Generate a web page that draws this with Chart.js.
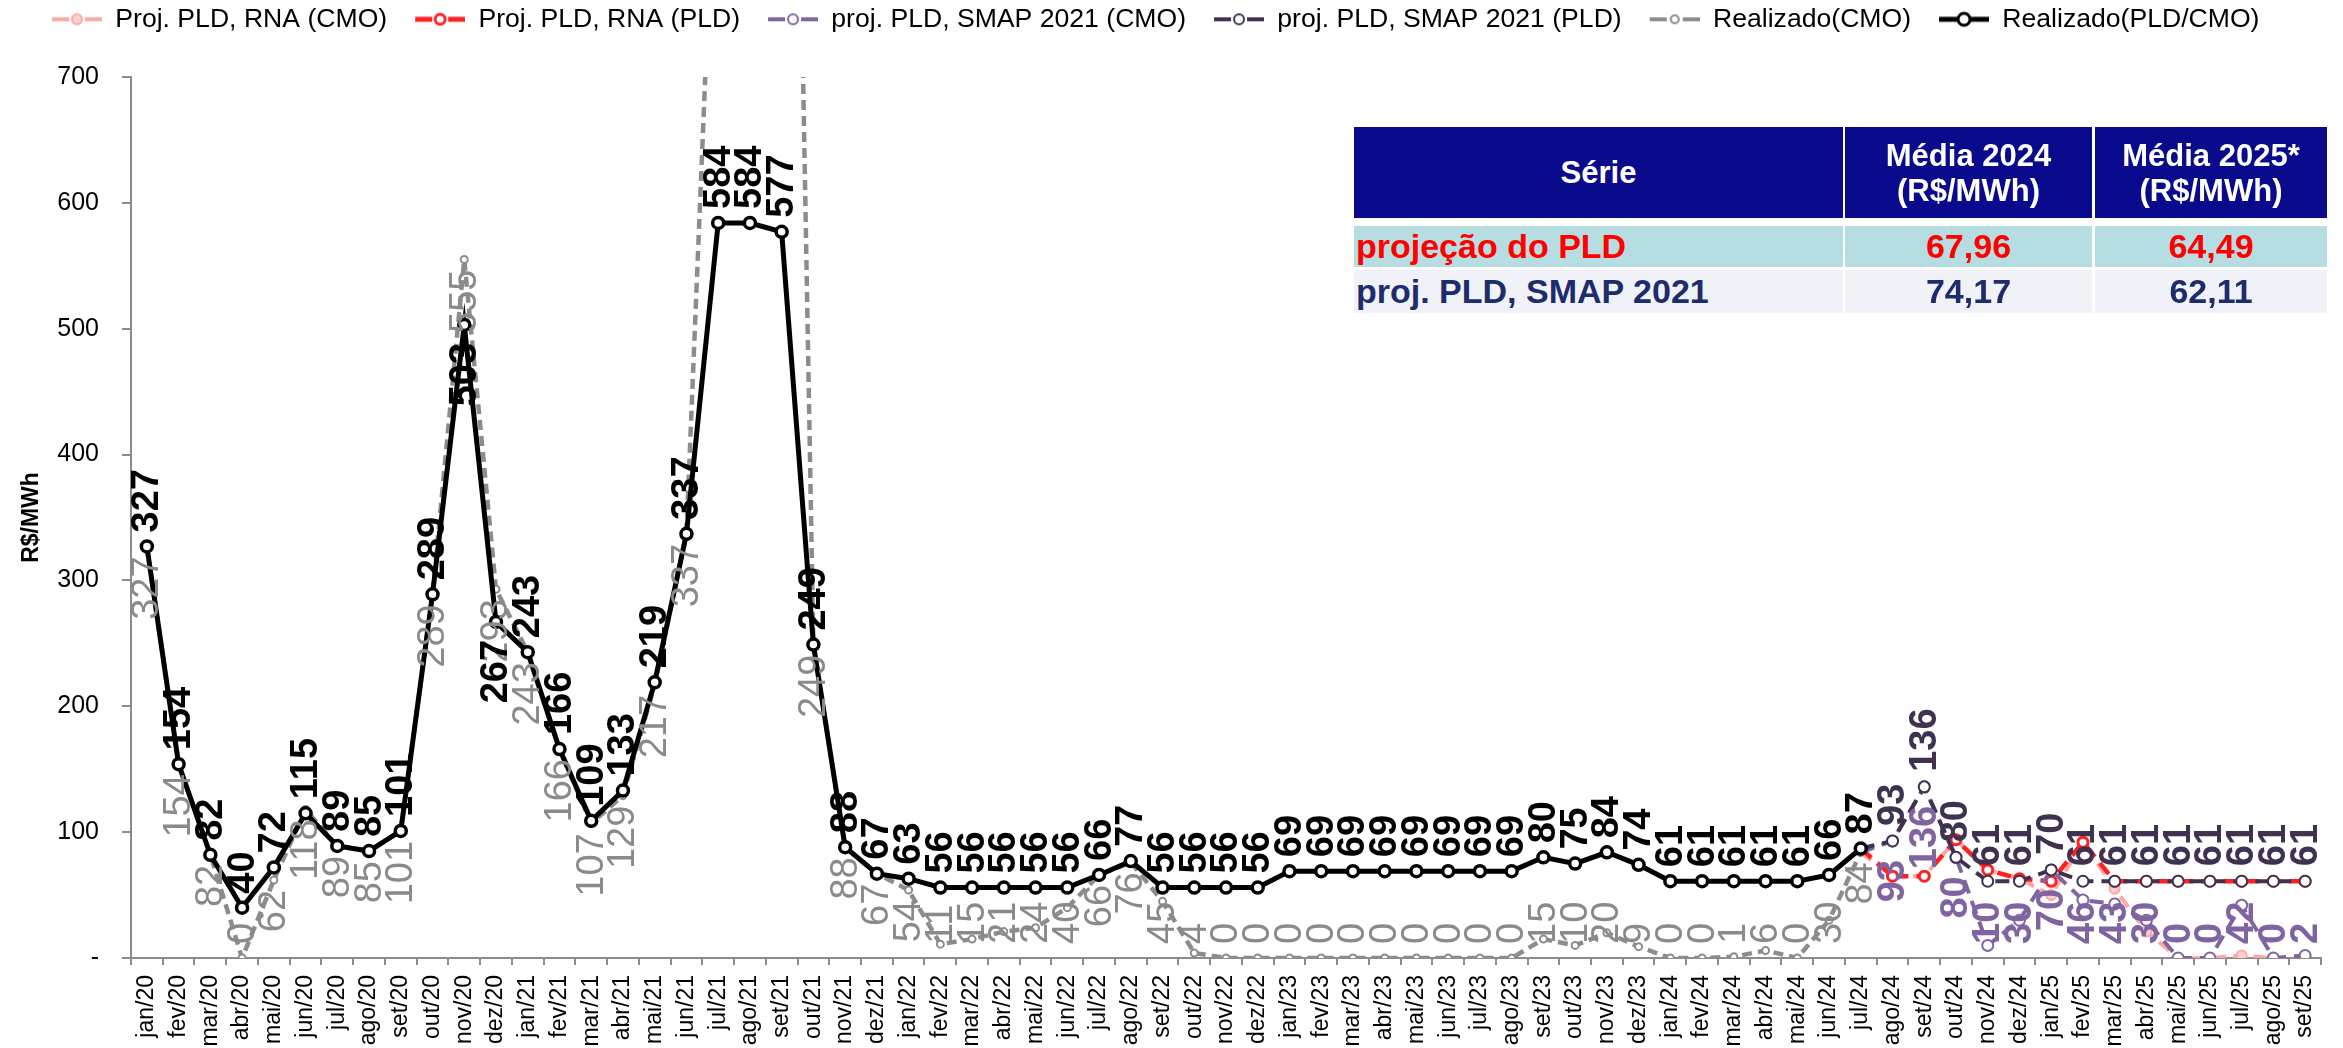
<!DOCTYPE html>
<html>
<head>
<meta charset="utf-8">
<script src="https://cdn.jsdelivr.net/npm/chart.js@4.4.1/dist/chart.umd.min.js"></script>
<style>
html,body{margin:0;padding:0;background:#fff;}
#wrap{position:relative;width:2343px;height:1048px;overflow:hidden;}
#c{position:absolute;left:0;top:0;}
.cell{position:absolute;box-sizing:border-box;display:flex;align-items:center;justify-content:center;text-align:center;
  font-family:'Liberation Sans',Arial,sans-serif;font-weight:bold;font-size:31px;line-height:35px;white-space:nowrap;}
.cell.body{font-size:34px;}
</style>
</head>
<body>
<div id="wrap"><canvas id="c" width="2343" height="1048"></canvas></div>
<script>
// ---------------- DATA ----------------
const categories = [
 'jan/20','fev/20','mar/20','abr/20','mai/20','jun/20','jul/20','ago/20','set/20','out/20','nov/20','dez/20',
 'jan/21','fev/21','mar/21','abr/21','mai/21','jun/21','jul/21','ago/21','set/21','out/21','nov/21','dez/21',
 'jan/22','fev/22','mar/22','abr/22','mai/22','jun/22','jul/22','ago/22','set/22','out/22','nov/22','dez/22',
 'jan/23','fev/23','mar/23','abr/23','mai/23','jun/23','jul/23','ago/23','set/23','out/23','nov/23','dez/23',
 'jan/24','fev/24','mar/24','abr/24','mai/24','jun/24','jul/24','ago/24','set/24','out/24','nov/24','dez/24',
 'jan/25','fev/25','mar/25','abr/25','mai/25','jun/25','jul/25','ago/25','set/25'
];
const N = null;
const realizadoPLD = [
 327,154,82,40,72,115,89,85,101,289,503,267,
 243,166,109,133,219,337,584,584,577,249,88,67,
 63,56,56,56,56,56,66,77,56,56,56,56,
 69,69,69,69,69,69,69,69,80,75,84,74,
 61,61,61,61,61,66,87,N,N,N,N,N,
 N,N,N,N,N,N,N,N,N
];
const realizadoCMO = [
 327,154,82,0,62,118,89,85,101,289,555,293,
 243,166,107,129,217,337,950,1330,1640,249,88,67,
 54,11,15,21,24,40,66,76,45,4,0,0,
 0,0,0,0,0,0,0,0,15,10,20,9,
 0,0,1,6,0,30,84,N,N,N,N,N,
 N,N,N,N,N,N,N,N,N
];
const pre = new Array(54).fill(null); // jan/20 .. jun/24 have no projection
const rnaCMO  = pre.concat([84,65,65,94,70,63, 50,92,55,21,0,0,2,0,0]);
const rnaPLD  = pre.concat([87,65,65,94,70,63, 61,92,61,61,61,61,61,61,61]);
const smapCMO = pre.concat([84,93,136,80,10,30, 70,46,43,30,0,0,42,0,2]);
const smapPLD = pre.concat([87,93,136,80,61,61, 70,61,61,61,61,61,61,61,61]);
const yTicks = [0,100,200,300,400,500,600,700];

const tableHeaders = ['Série','Média 2024','Média 2025*'];
const tableUnit = '(R$/MWh)';
const tableSeries = ['projeção do PLD','proj. PLD, SMAP 2021'];
const media2024 = ['67,96','74,17'];
const media2025 = ['64,49','62,11'];

// ---------------- STYLE ----------------
const FONT = "'Liberation Sans', Arial, sans-serif";
Chart.defaults.font.family = FONT;
const FIRST_PROJ = 54;

function makeIcon(lineColor, dashed, lw, r, fill, pbw, pColor){
  const c = document.createElement('canvas'); c.width = 72; c.height = 26;
  const g = c.getContext('2d');
  g.strokeStyle = lineColor; g.lineWidth = lw; g.lineCap = 'butt';
  g.beginPath();
  if (dashed){ g.moveTo(22,13); g.lineTo(39,13); g.moveTo(55,13); g.lineTo(72,13); }
  else { g.moveTo(22,13); g.lineTo(72,13); }
  g.stroke();
  g.beginPath(); g.arc(47,13,r,0,Math.PI*2); g.fillStyle = fill; g.fill();
  g.lineWidth = pbw; g.strokeStyle = pColor; g.stroke();
  return c;
}
const icons = [
  makeIcon('#FFA6A6', true, 4, 5, '#FFD0D0', 2, '#FFA6A6'),
  makeIcon('#FF2020', true, 5, 5, '#FFFFFF', 3, '#FF2020'),
  makeIcon('#8064A2', true, 4, 5, '#FFFFFF', 2, '#8064A2'),
  makeIcon('#403151', true, 4, 5, '#FFFFFF', 2, '#403151'),
  makeIcon('#8C8C8C', true, 4, 4, '#FFFFFF', 2, '#8C8C8C'),
  makeIcon('#000000', false, 5, 6, '#FFFFFF', 3, '#000000')
];
const projRadius = (r) => (ctx) => ctx.dataIndex === FIRST_PROJ ? 0 : r;

const labelCfg = {
  2: {pos:'below', color:'#8064A2', weight:'bold',   gap:19, from:55},
  3: {pos:'above', color:'#403151', weight:'bold',   gap:15, from:55},
  4: {pos:'below', color:'#8A8A8A', weight:'normal', gap:10, from:0},
  5: {pos:'above', color:'#000000', weight:'bold',   gap:14, from:0, flip:[10,11], flipGap:18}
};
const LABEL_SIZE = 38;
const LABEL_MAX_BOTTOM = 944;

const labelPlugin = {
  id: 'valueLabels',
  afterDatasetsDraw(chart){
    const ctx = chart.ctx;
    const yScale = chart.scales.y;
    [2,3,4,5].forEach(di => {
      const cfg = labelCfg[di];
      const meta = chart.getDatasetMeta(di);
      const data = chart.data.datasets[di].data;
      ctx.save();
      ctx.font = `${cfg.weight} ${LABEL_SIZE}px ${FONT}`;
      ctx.fillStyle = cfg.color;
      ctx.textBaseline = 'middle';
      for (let j = cfg.from; j < data.length; j++){
        const v = data[j];
        if (v === null || v === undefined || v > yScale.max || v < yScale.min) continue;
        const pt = meta.data[j];
        const txt = String(Math.round(v));
        const w = ctx.measureText(txt).width;
        let pos = cfg.pos, gap = cfg.gap;
        if (cfg.flip && cfg.flip.includes(j)) { pos = 'below'; gap = cfg.flipGap; }
        ctx.save();
        if (pos === 'above'){
          ctx.translate(pt.x + 1, pt.y - gap);
          ctx.rotate(-Math.PI/2);
          ctx.textAlign = 'left';
        } else {
          let top = pt.y + gap;
          if (top + w > LABEL_MAX_BOTTOM) top = LABEL_MAX_BOTTOM - w;
          ctx.translate(pt.x + 1, top);
          ctx.rotate(-Math.PI/2);
          ctx.textAlign = 'right';
        }
        ctx.fillText(txt, 0, 0);
        ctx.restore();
      }
      ctx.restore();
    });
  }
};

const legendFitPlugin = {
  id: 'legendFit',
  beforeUpdate(chart){
    const lg = chart.legend;
    if (lg && !lg._patched){
      const orig = lg.fit;
      lg.fit = function(){ orig.call(this); this.height = 77; };
      lg._patched = true;
    }
  }
};

const datasets = [
  {label:'Proj. PLD, RNA (CMO)', data:rnaCMO, order:5, borderColor:'#FFA6A6', backgroundColor:'#FFD0D0',
   borderWidth:4, borderDash:[13,7], pointRadius:projRadius(5), pointBorderWidth:2,
   pointBackgroundColor:'#FFD0D0', pointBorderColor:'#FFA6A6'},
  {label:'Proj. PLD, RNA (PLD)', data:rnaPLD, order:4, borderColor:'#FF2020', backgroundColor:'#FFFFFF',
   borderWidth:4.5, borderDash:[14,8], pointRadius:projRadius(5), pointBorderWidth:3,
   pointBackgroundColor:'#FFFFFF', pointBorderColor:'#FF2020'},
  {label:'proj. PLD, SMAP 2021 (CMO)', data:smapCMO, order:3, borderColor:'#8064A2', backgroundColor:'#FFFFFF',
   borderWidth:4, borderDash:[14,8], pointRadius:projRadius(5.5), pointBorderWidth:2,
   pointBackgroundColor:'#FFFFFF', pointBorderColor:'#8064A2'},
  {label:'proj. PLD, SMAP 2021 (PLD)', data:smapPLD, order:2, borderColor:'#403151', backgroundColor:'#FFFFFF',
   borderWidth:4, borderDash:[14,8], pointRadius:projRadius(5.5), pointBorderWidth:2,
   pointBackgroundColor:'#FFFFFF', pointBorderColor:'#403151'},
  {label:'Realizado(CMO)', data:realizadoCMO, order:1, borderColor:'#8C8C8C', backgroundColor:'#FFFFFF',
   borderWidth:4.5, borderDash:[10,6], pointRadius:3.5, pointBorderWidth:2,
   pointBackgroundColor:'#FFFFFF', pointBorderColor:'#8C8C8C'},
  {label:'Realizado(PLD/CMO)', data:realizadoPLD, order:0, borderColor:'#000000', backgroundColor:'#FFFFFF',
   borderWidth:5, pointRadius:5.5, pointBorderWidth:3.5,
   pointBackgroundColor:'#FFFFFF', pointBorderColor:'#000000'}
];
datasets.forEach(d => { d.tension = 0; d.fill = false; d.spanGaps = false; d.pointHoverRadius = d.pointRadius; });

const AXIS = '#8C8C8C';
new Chart(document.getElementById('c'), {
  type: 'line',
  data: { labels: categories, datasets },
  plugins: [labelPlugin, legendFitPlugin],
  options: {
    responsive:false, animation:false, devicePixelRatio:1, events:[],
    layout: { padding: { left:24, right:22, top:0, bottom:0 } },
    plugins: {
      tooltip:{enabled:false},
      legend: {
        position:'top', align:'start',
        labels: {
          usePointStyle:true, pointStyleWidth:72, padding:6, color:'#000',
          font:{size:26.6, family:FONT},
          generateLabels(chart){
            const items = Chart.defaults.plugins.legend.labels.generateLabels(chart);
            items.forEach(it => { it.pointStyle = icons[it.datasetIndex]; });
            return items;
          },
          sort:(a,b) => a.datasetIndex - b.datasetIndex
        }
      }
    },
    scales: {
      x: {
        type:'category', offset:true,
        grid:{ offset:true, drawOnChartArea:false, drawTicks:true, tickLength:7, color:AXIS, lineWidth:2 },
        border:{ display:true, color:AXIS, width:2 },
        ticks:{ autoSkip:false, maxRotation:90, minRotation:90, color:'#000', padding:10, font:{size:23} },
        afterFit(s){ s.height = 90; s.paddingLeft = 0; s.paddingRight = 0; }
      },
      y: {
        min:0, max:700,
        afterBuildTicks(s){ s.ticks = yTicks.map(v => ({value:v})); },
        grid:{ drawOnChartArea:false, drawTicks:true, tickLength:9, color:AXIS, lineWidth:2 },
        border:{ display:true, color:AXIS, width:2 },
        ticks:{ color:'#000', padding:23, font:{size:25}, callback:(v) => v === 0 ? '-' : String(v) },
        title:{ display:true, text:'R$/MWh', color:'#000', font:{size:23, weight:'bold'}, padding:{top:-6, bottom:0} },
        afterFit(s){ s.width = 107; }
      }
    }
  }
});

// ---------------- TABLE (text overlay) ----------------
const wrap = document.getElementById('wrap');
const colLeft = [1354, 1845, 2095];
const colWidth = [489, 247, 232];
function cell(left, top, width, height, html, bg, color, align, cls){
  const d = document.createElement('div');
  d.className = 'cell' + (cls ? ' ' + cls : '');
  d.style.left = left+'px'; d.style.top = top+'px';
  d.style.width = width+'px'; d.style.height = height+'px';
  d.style.background = bg; d.style.color = color;
  if (align === 'left'){ d.style.justifyContent = 'flex-start'; d.style.paddingLeft = '2px'; d.style.textAlign='left'; }
  d.innerHTML = html;
  wrap.appendChild(d);
}
const HEAD_BG = '#0A0A8C';
cell(colLeft[0], 127, colWidth[0], 91, tableHeaders[0], HEAD_BG, '#FFFFFF');
cell(colLeft[1], 127, colWidth[1], 91, tableHeaders[1] + '<br>' + tableUnit, HEAD_BG, '#FFFFFF');
cell(colLeft[2], 127, colWidth[2], 91, tableHeaders[2] + '<br>' + tableUnit, HEAD_BG, '#FFFFFF');
const rowTop = [226, 270], rowH = [41, 43], rowBg = ['#B6DDE1', '#F1F2F7'], rowColor = ['#FF0000', '#1C2C6C'];
for (let r = 0; r < tableSeries.length; r++){
  cell(colLeft[0], rowTop[r], colWidth[0], rowH[r], tableSeries[r], rowBg[r], rowColor[r], 'left', 'body');
  cell(colLeft[1], rowTop[r], colWidth[1], rowH[r], media2024[r], rowBg[r], rowColor[r], null, 'body');
  cell(colLeft[2], rowTop[r], colWidth[2], rowH[r], media2025[r], rowBg[r], rowColor[r], null, 'body');
}
</script>
</body>
</html>
